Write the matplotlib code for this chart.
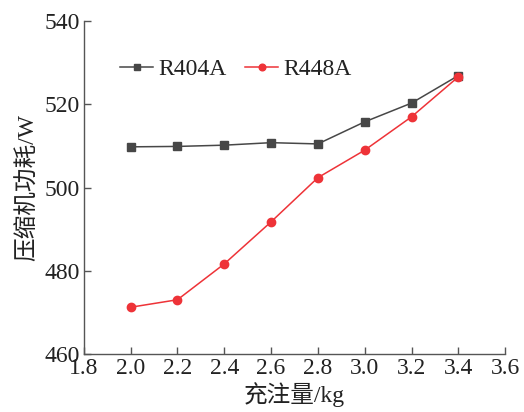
import matplotlib
matplotlib.use("Agg")
import matplotlib.pyplot as plt

plt.rcParams['font.family'] = ['Liberation Serif', 'Noto Sans CJK SC']
plt.rcParams['mathtext.fontset'] = 'stix'

charge_kg = [2.0, 2.2, 2.4, 2.6, 2.8, 3.0, 3.2, 3.4]
power_r404a = [509.8, 509.9, 510.2, 510.8, 510.5, 515.8, 520.3, 526.9]
power_r448a = [471.3, 473.1, 481.7, 491.8, 502.4, 509.0, 517.0, 526.6]

x_ticks = [1.8, 2.0, 2.2, 2.4, 2.6, 2.8, 3.0, 3.2, 3.4, 3.6]
y_ticks = [460, 480, 500, 520, 540]

fig = plt.figure(figsize=(5.24, 4.12), dpi=100)
ax = fig.add_axes([0.160, 0.140, 0.804, 0.809])

ax.plot(charge_kg, power_r404a, color='#474747', lw=1.1, marker='s',
        markersize=5.2, label='R404A')
ax.plot(charge_kg, power_r448a, color='#ee3338', lw=1.1, marker='o',
        markersize=6.0, label='R448A')

ax.set_xlim(1.8, 3.6)
ax.set_ylim(460, 540)
ax.set_xticks(x_ticks)
ax.set_xticklabels([f'{v:.1f}' for v in x_ticks])
ax.set_yticks(y_ticks)

for side in ('top', 'right'):
    ax.spines[side].set_visible(False)
for side in ('left', 'bottom'):
    ax.spines[side].set_color('#555555')
    ax.spines[side].set_linewidth(1.0)

ax.tick_params(direction='in', length=5, width=1.0, color='#555555',
               labelsize=17, labelcolor='#222222', pad=3)

ax.set_xlabel('充注量/kg', fontsize=17, color='#222222', labelpad=2)
ax.set_ylabel('压缩机功耗/W', fontsize=17, color='#222222', labelpad=4)

leg = ax.legend(loc='upper left', bbox_to_anchor=(0.036, 0.952), ncol=2,
                frameon=False, fontsize=17, handlelength=1.4,
                handletextpad=0.2, columnspacing=0.8, markerscale=0.8,
                labelcolor='#222222')

fig.savefig('out.png', dpi=100)
